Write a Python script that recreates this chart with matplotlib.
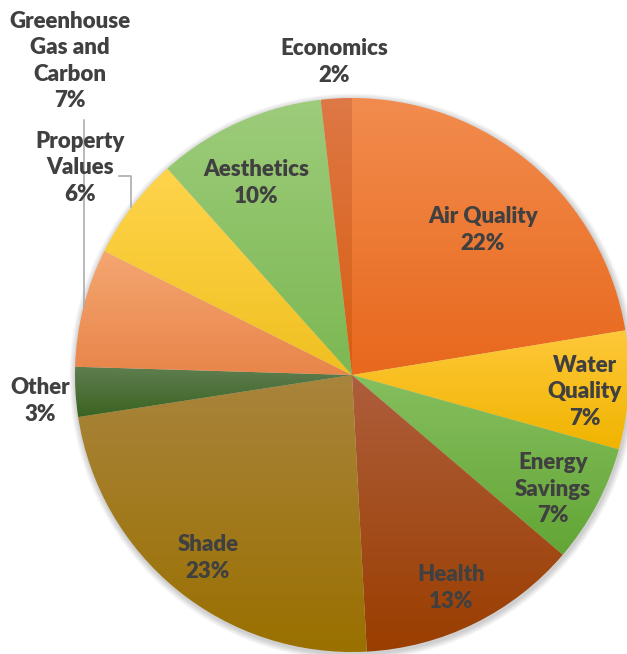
import numpy as np
import matplotlib
matplotlib.use('Agg')
from matplotlib import pyplot as plt
from matplotlib.colors import LinearSegmentedColormap

# slice data, clockwise from 12 o'clock
labels = ['Air Quality', 'Water\nQuality', 'Energy\nSavings', 'Health', 'Shade',
          'Other', 'Greenhouse\nGas and\nCarbon', 'Property\nValues', 'Aesthetics', 'Economics']
values = [22.4, 6.9, 6.9, 12.9, 23.4, 2.9, 6.9, 6.0, 9.8, 1.8]

# top / bottom gradient colours per slice
tops = ['#F28C4E', '#FFC83A', '#86BF5E', '#AE5E3C', '#A9843C',
        '#5F7E51', '#F5A671', '#FFD44C', '#9DCC7B', '#DE7846']
bottoms = ['#E8681C', '#F0B400', '#62A535', '#9A3E00', '#9A7000',
           '#3A6320', '#E8854A', '#F0C020', '#7CB852', '#D85E10']

# label anchor points (pixels from top-left)
label_xy = [(483, 230), (585, 392), (553, 489), (451, 588), (208, 558),
            (40, 401), (70, 61), (80, 168), (256, 183), (334, 62)]

W, H = 627, 654
fig = plt.figure(figsize=(W / 100, H / 100), dpi=100)
ax = fig.add_axes([0, 0, 1, 1])

cx, cy, r = 352, H - 375, 277

# soft shadow
for k in range(8):
    sh = plt.Circle((cx + 1, cy - 2), r + 1 + k * 0.8, color='black',
                    alpha=0.025, lw=0, zorder=0)
    ax.add_patch(sh)

wedges, _ = ax.pie(values, startangle=90, counterclock=False,
                   center=(cx, cy), radius=r, frame=True,
                   wedgeprops=dict(lw=0))

grad = np.linspace(0, 1, 256).reshape(-1, 1)
for w, t, b in zip(wedges, tops, bottoms):
    w.set_facecolor('none')
    ext = w.get_path().get_extents()
    cmap = LinearSegmentedColormap.from_list('g', [b, t])
    im = ax.imshow(grad, cmap=cmap, origin='lower', aspect='auto',
                   extent=[ext.x0, ext.x1, ext.y0, ext.y1], zorder=1,
                   interpolation='bilinear')
    im.set_clip_path(w)

ax.set_xlim(0, W)
ax.set_ylim(0, H)
ax.set_aspect('equal')
ax.axis('off')

for lab, v, (x, y) in zip(labels, values, label_xy):
    ax.text(x, H - y, f'{lab}\n{v:.0f}%', ha='center', va='center',
            fontsize=16, fontweight='heavy', color='#404040',
            family='Lato', linespacing=1.33, zorder=5)

# leader lines
lc = '#A6A6A6'
ax.plot([84, 84], [H - 120, H - 307], color=lc, lw=1.1, zorder=4)
ax.plot([119, 131, 131], [H - 176, H - 176, H - 207], color=lc, lw=1.1, zorder=4)

fig.savefig('out.png', dpi=100)
